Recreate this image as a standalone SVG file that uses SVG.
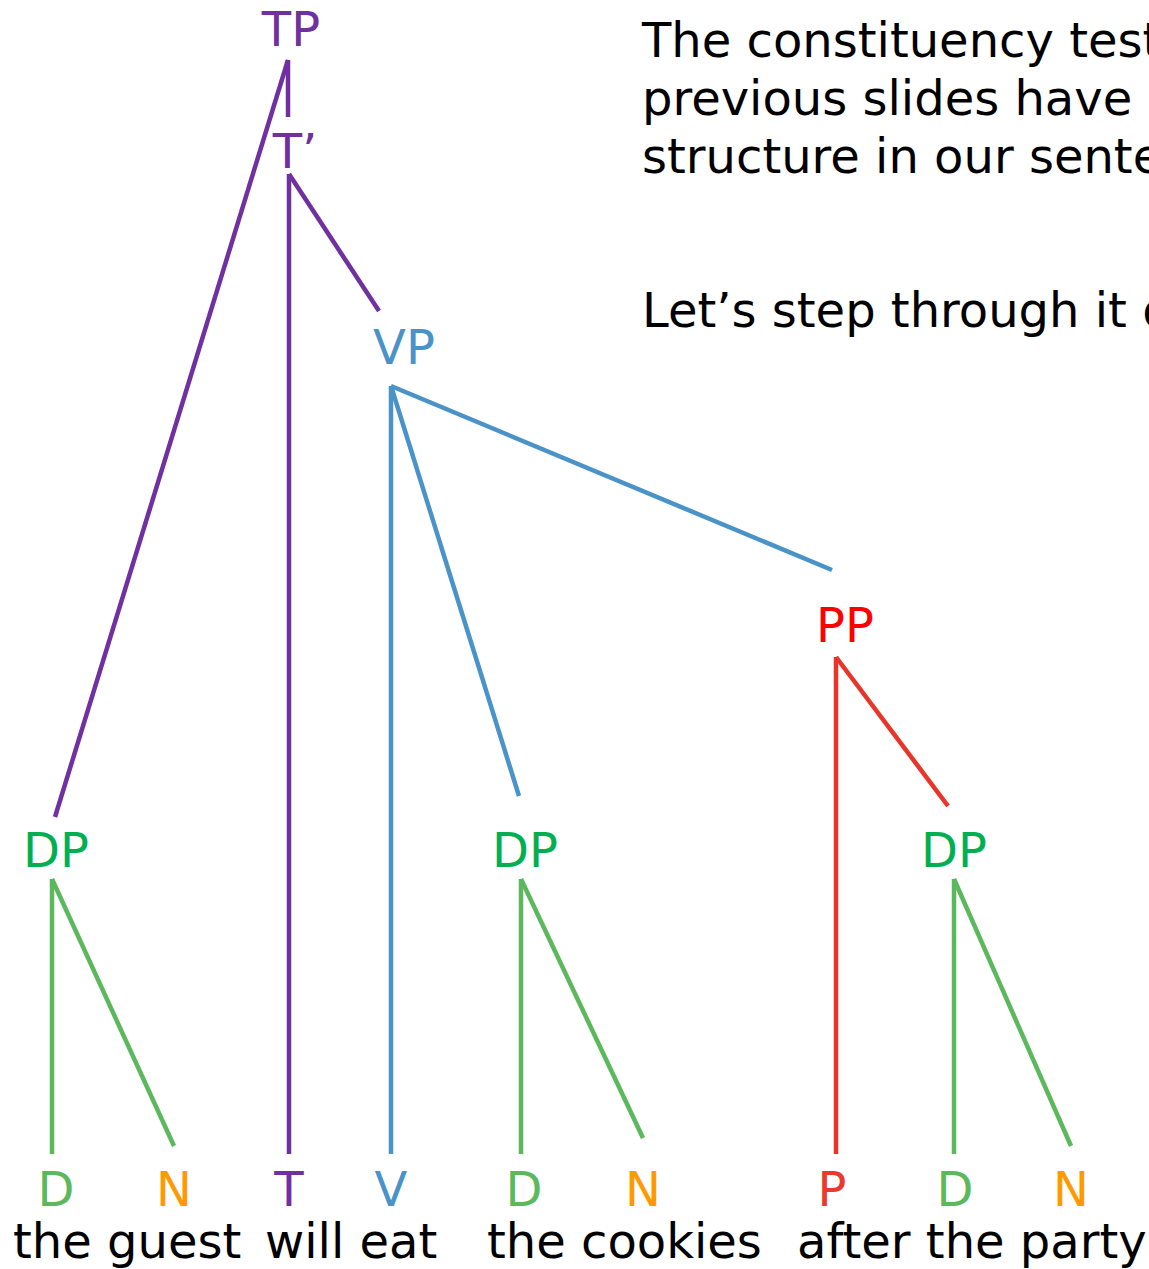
<svg xmlns="http://www.w3.org/2000/svg" width="1149" height="1269" viewBox="0 0 1149 1269">
<style>
text{font-family:"DejaVu Sans","Liberation Sans",sans-serif;font-size:48px}
.c{text-anchor:middle}
.pu{fill:#7030A0}.bl{fill:#4A93C8}.rd{fill:#FF0000}.gr{fill:#00B050}.lg{fill:#5CB85C}.or{fill:#FF9900}.rp{fill:#EA3A2F}
.k{fill:#000}
line{stroke-width:4.5;stroke-linecap:butt}
.lpu{stroke:#7030A0}.lbl{stroke:#4A93C8}.lrd{stroke:#E8352A}.lgr{stroke:#5CB85C}
</style>
<rect width="1149" height="1269" fill="#fff"/>
<g id="connectors">
<line class="lpu" x1="288" y1="60" x2="288" y2="117"/>
<line class="lpu" x1="288" y1="60" x2="55" y2="817"/>
<line class="lpu" x1="289" y1="174" x2="289" y2="1154"/>
<line class="lpu" x1="289" y1="174" x2="379" y2="311"/>
<line class="lbl" x1="391" y1="386" x2="391" y2="1154"/>
<line class="lbl" x1="391" y1="386" x2="519" y2="796"/>
<line class="lbl" x1="391" y1="386" x2="832" y2="570"/>
<line class="lrd" x1="836" y1="657" x2="836" y2="1154"/>
<line class="lrd" x1="836" y1="657" x2="948" y2="806"/>
<line class="lgr" x1="52" y1="879" x2="52" y2="1154"/>
<line class="lgr" x1="52" y1="879" x2="174" y2="1146"/>
<line class="lgr" x1="521" y1="879" x2="521" y2="1154"/>
<line class="lgr" x1="521" y1="879" x2="643" y2="1138"/>
<line class="lgr" x1="954" y1="879" x2="954" y2="1154"/>
<line class="lgr" x1="954" y1="879" x2="1071" y2="1146"/>
</g>
<g id="TP"><text class="c pu" x="291" y="46">TP</text></g>
<g id="Tbar"><text class="c pu" x="295" y="168">T’</text></g>
<g id="VP"><text class="c bl" x="404" y="364">VP</text></g>
<g id="PP"><text class="c rd" x="845" y="642">PP</text></g>
<g id="DP1"><text class="c gr" x="56" y="867">DP</text></g>
<g id="DP2"><text class="c gr" x="525" y="867">DP</text></g>
<g id="DP3"><text class="c gr" x="954" y="867">DP</text></g>
<g id="D1"><text class="c lg" x="56" y="1206">D</text></g>
<g id="N1"><text class="c or" x="174" y="1206">N</text></g>
<g id="T"><text class="c pu" x="289" y="1206">T</text></g>
<g id="V"><text class="c bl" x="391" y="1206">V</text></g>
<g id="D2"><text class="c lg" x="524" y="1206">D</text></g>
<g id="N2"><text class="c or" x="643" y="1206">N</text></g>
<g id="P"><text class="c rp" x="832" y="1206">P</text></g>
<g id="D3"><text class="c lg" x="955" y="1206">D</text></g>
<g id="N3"><text class="c or" x="1071" y="1206">N</text></g>
<g id="words">
<text class="k" x="13" y="1258">the guest</text>
<text class="k" x="265" y="1258">will eat</text>
<text class="k" x="487" y="1258">the cookies</text>
<text class="k" x="797" y="1258">after the party</text>
</g>
<g id="notes">
<text class="k" x="642" y="57">The constituency test</text>
<text class="k" x="642" y="115">previous slides have</text>
<text class="k" x="642" y="173">structure in our sente</text>
<text class="k" x="642" y="327">Let’s step through it o</text>
</g>
</svg>
